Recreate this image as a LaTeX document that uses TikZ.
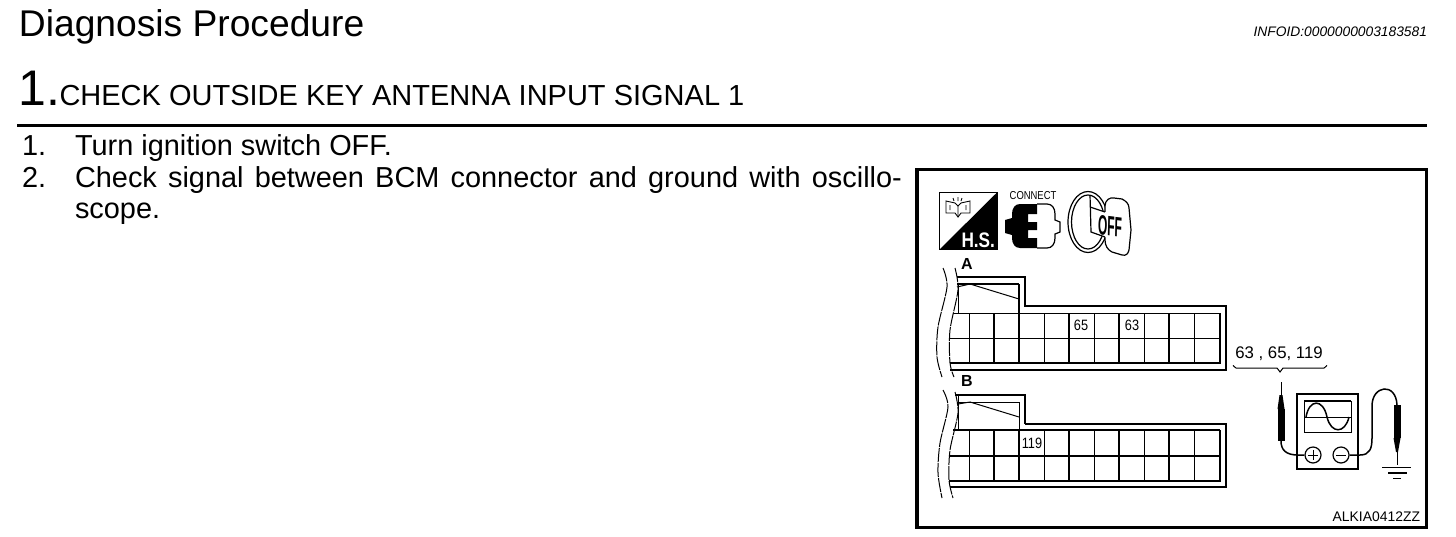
\documentclass[tikz,border=0pt]{standalone}
\usepackage{fontspec}
\setmainfont{Liberation Sans}
\newcommand{\fsz}[1]{\fontsize{#1}{#1}\selectfont}
\tikzset{
  txt/.style={inner sep=0pt,outer sep=0pt,anchor=base west},
  thin line/.style={line width=1pt},
  med line/.style={line width=1.5pt},
  thick line/.style={line width=2.4pt},
  wavy/.style={line width=1pt,dash pattern=on 14pt off 1pt},
  lbl/.style={inner sep=0pt,outer sep=0pt},
  pinlbl/.style={lbl,font=\fsz{15},xscale=.85}
}
\begin{document}
\begin{tikzpicture}[x=1pt,y=-1pt,line cap=butt,line join=miter]
\useasboundingbox (0,0) rectangle (1456,536);
\fill[white] (0,0) rectangle (1456,536);
% page text
\node[txt,font=\fsz{37.2}] (title) at (19,36) {Diagnosis Procedure};
\node[txt,font=\fsz{13.8},anchor=base east] (infoid) at (1427,36) {\textit{INFOID:0000000003183581}};
\node[txt,font=\fsz{50}] (num) at (18.5,105) {1.};
\node[txt,font=\fsz{29}] (head) at (59.5,105) {CHECK OUTSIDE KEY ANTENNA INPUT SIGNAL 1};
\draw[line width=2.6pt] (17,125.5) -- (1427,125.5);
\node[txt,font=\fsz{28.9}] (n1) at (22,155) {1.};
\node[txt,font=\fsz{28.9}] (s1) at (75,155) {Turn ignition switch OFF.};
\node[txt,font=\fsz{28.9}] (n2) at (22,187) {2.};
\node[txt,font=\fsz{28.9}] (s2) at (75,187) {\hbox to 827pt{Check signal between BCM connector and ground with oscillo-}};
\node[txt,font=\fsz{28.9}] (s3) at (75,218.5) {scope.};
% frame
\draw[line width=3.2pt] (917,169.5) rectangle (1426.5,527.5);
% H.S. icon
\draw[line width=1.2pt] (939.5,192.5) rectangle (997,249.5);
\fill[black] (997,192.5) -- (997,249.5) -- (939.5,249.5) -- cycle;
\node[txt,font=\bfseries\fsz{21},text=white,xscale=.82,anchor=base east] (hs) at (995,247) {H.S.};
\draw[line width=.9pt] (946,201) -- (946,213) -- (955,213) -- (958,217) -- (961,213) -- (970,213) -- (970,201) -- (961,203) -- (958,206) -- (955,203) -- cycle;
\draw[line width=.9pt] (958,206) -- (958,217) (950,205) -- (950,210) (966,205) -- (966,210) (953,198)--(954,201) (962,198)--(961,201) (958,197)--(958,201);
% connect icon
\node[lbl,font=\fsz{11.5},xscale=.82] (connect) at (1033,196) {CONNECT};
\draw[line width=1.2pt] (1037,204) -- (1047,204) .. controls (1052,204) and (1055,208) .. (1055,214) -- (1055,220) -- (1060,222) -- (1060,232) -- (1055,234) -- (1055,238) .. controls (1055,244) and (1052,248) .. (1047,248) -- (1037,248);
\fill[black] (1037,204) -- (1020,204) .. controls (1015,204) and (1012,208) .. (1012,214) -- (1012,218) -- (1005,220) -- (1005,233) -- (1012,235) -- (1012,238) .. controls (1012,244) and (1015,248) .. (1020,248) -- (1037,248) -- (1037,238) -- (1028,238) -- (1028,230) -- (1037,230) -- (1037,222) -- (1028,222) -- (1028,214) -- (1037,214) -- cycle;
% key icon
\draw[line width=1.2pt] (1088,222) ellipse [x radius=20,y radius=30.5];
\draw[line width=1.2pt] (1088,222) ellipse [x radius=16.5,y radius=27];
\draw[line width=1.2pt,fill=white] (1105,206) .. controls (1105,200) and (1110,197) .. (1114,198) -- (1122,199) .. controls (1126,201) and (1129,204) .. (1129,208) -- (1131,230) -- (1129,250) .. controls (1128,254) and (1126,256) .. (1122,255) -- (1112,252) .. controls (1108,250) and (1105,246) .. (1105,240) -- cycle;
\fill[white] (1091,197) -- (1091,232) -- (1104,237) -- (1108,237) -- (1108,213) -- (1091,207) -- cycle;
\draw[line width=1.2pt] (1090,195) -- (1091,232) -- (1105,237) (1090,207) -- (1105,212);
\node[lbl,font=\bfseries\fsz{28},xscale=.43,rotate=-3] (off) at (1110,226) {OFF};
% connector A
\node[lbl,font=\bfseries\fsz{16}] (la) at (967,264) {A};
\draw[wavy] plot[smooth] coordinates {(943,268) (947,287) (938,327) (937,357) (942,377)};
\draw[wavy] plot[smooth] coordinates {(955,268) (958,290) (950,330) (950,363) (954,377)};
\draw[med line] (957,277) -- (1025,277) -- (1025,306) -- (1226,306) -- (1226,370);
\draw[thick line] (957,284) -- (1019,284);
\draw[thin line] (957,287) -- (970,284) -- (1019,299);
\draw[thin line] (958,284) -- (958,313);
\draw[thin line] (953,313) -- (1220,313);
\draw[thin line] (949,338) -- (1220,338);
\draw[thick line] (950,363) -- (1221,363);
\draw[thick line] (950,370) -- (1227,370);
\foreach \X in {969,1044,1094,1144,1194} \draw[thin line] (\X,313) -- (\X,363);
\foreach \X in {994,1019,1069,1119,1169,1220} \draw[thick line] (\X,313) -- (\X,363);
\draw[thick line] (1019,284) -- (1019,313);
\node[pinlbl] (p65) at (1081,325) {65};
\node[pinlbl] (p63) at (1132,325) {63};
% connector B
\node[lbl,font=\bfseries\fsz{16}] (lb) at (967,381) {B};
\draw[wavy] plot[smooth] coordinates {(943,390) (948,407) (940,443) (938,473) (942,498)};
\draw[wavy] plot[smooth] coordinates {(955,392) (958,413) (950,450) (949,480) (953,498)};
\draw[thick line] (955,395) -- (1025,395) -- (1025,424);
\draw[med line] (1025,424) -- (1226,424) -- (1226,487) -- (950,487);
\draw[thin line] (958,402) -- (1019,402) -- (1019,430);
\draw[thin line] (958,404) -- (970,402) -- (1019,417);
\draw[thin line] (958,395) -- (958,430);
\draw[med line] (953,430) -- (1220,430);
\draw[thick line] (949,456) -- (1221,456);
\draw[thick line] (949,481) -- (1221,481);
\foreach \X in {969,1044,1094,1144,1194} \draw[thin line] (\X,430) -- (\X,481);
\foreach \X in {994,1019,1069,1119,1169,1220} \draw[thick line] (\X,430) -- (\X,481);
\node[pinlbl] (p119) at (1032,443) {119};
% pin callout
\node[lbl,font=\fsz{16.8}] (pins) at (1279,354) {63 , 65, 119};
\draw[thin line] (1233,366) to[out=85,in=180] (1236,368) -- (1277,368) -- (1280,372) -- (1283,368) -- (1324,368) to[out=0,in=95] (1327,366);
% meter
\draw[med line] (1297,394) rectangle (1358,469);
\draw[thick line] (1304,401) -- (1351,401);
\draw[thin line] (1304,401) rectangle (1351,432);
\draw[thin line] (1304,417) -- (1351,417);
\draw[med line] (1306,417) .. controls (1309,399) and (1323,398) .. (1327,417) .. controls (1331,434) and (1345,434) .. (1349,417);
\node[draw,circle,line width=1.2pt,minimum size=16pt,inner sep=0pt] (plus) at (1313,455) {};
\node[draw,circle,line width=1.2pt,minimum size=16pt,inner sep=0pt] (minus) at (1341,455) {};
\draw[thin line] (1308,455) -- (1318,455) (1313,450) -- (1313,460);
\draw[thin line] (1336,455) -- (1346,455);
% probes
\coordinate (tipA) at (1281,382);
\coordinate (bodyAtop) at (1281,409);
\coordinate (bodyAbot) at (1281,441);
\coordinate (tipB) at (1397,465);
\coordinate (bodyBtop) at (1397,405);
\coordinate (bodyBbot) at (1397,438);
\draw[thin line] (tipA) -- (bodyAtop);
\fill[black] (1279.5,395) -- (1282.5,395) -- (1284.5,409) -- (1277.5,409) -- cycle;
\draw[line width=7pt] (bodyAtop) -- (bodyAbot);
\draw[med line] (bodyAbot) .. controls (1281,450) and (1286,455) .. (1298,455) -- (plus.west);
\draw[med line] (minus.east) -- (1360,455) .. controls (1370,455) and (1372,448) .. (1372,438) -- (1372,406) .. controls (1372,385) and (1396,382) .. (bodyBtop);
\draw[line width=7pt] (bodyBtop) -- (bodyBbot);
\fill[black] (1393.5,438) -- (1400.5,438) -- (1398,452) -- (1396,452) -- cycle;
\draw[thin line] (bodyBbot) -- (tipB);
\draw[thin line] (1382,467) -- (1411,467);
\draw[line width=1.6pt] (1388,473) -- (1407,473);
\draw[line width=1.6pt] (1393,478.5) -- (1401,478.5);
\node[txt,font=\fsz{13.9},anchor=base east] (code) at (1420,521) {ALKIA0412ZZ};
\end{tikzpicture}
\end{document}
